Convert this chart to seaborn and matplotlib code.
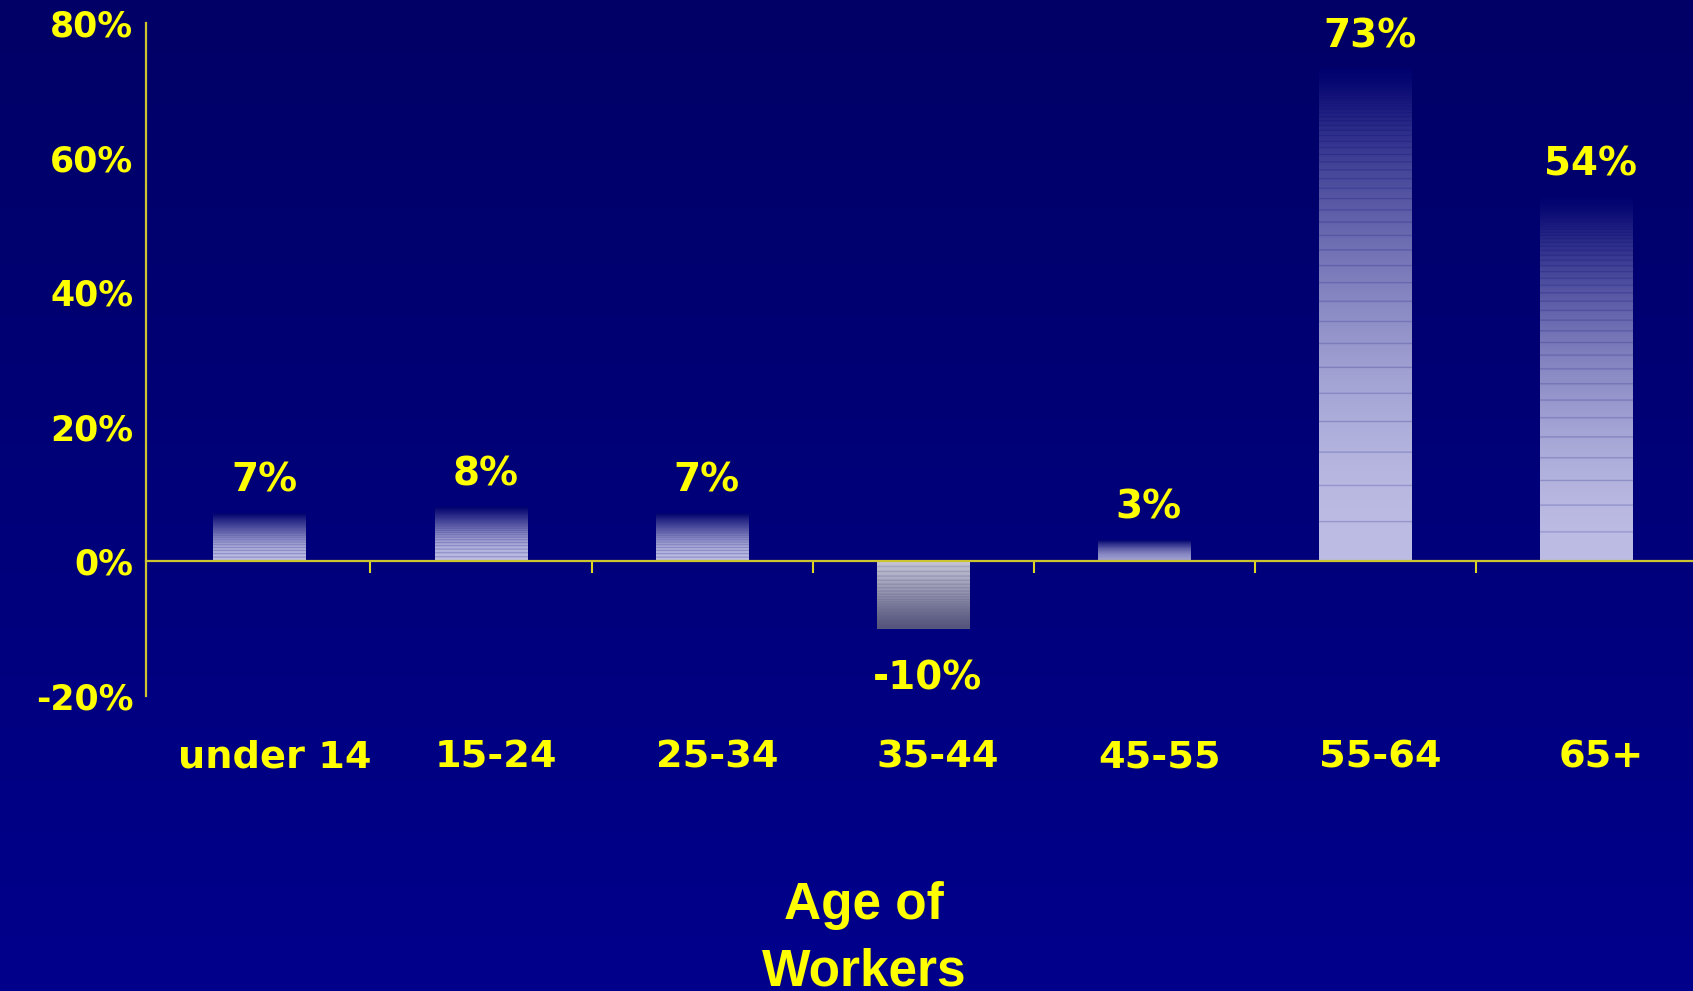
import numpy as np
import pandas as pd
import matplotlib
matplotlib.use("Agg")
import matplotlib.pyplot as plt
import matplotlib.transforms as mtransforms
from matplotlib.colors import to_rgb
from matplotlib.ticker import FuncFormatter
import seaborn as sns

# ---- data -------------------------------------------------------------
age_groups = ["under 14", "15-24", "25-34", "35-44", "45-55", "55-64", "65+"]
change_pct = [7, 8, 7, -10, 3, 73, 54]
y_ticks = [-20, 0, 20, 40, 60, 80]
axis_title = "Age of\nWorkers"

# ---- style ------------------------------------------------------------
YELLOW = "#ffff00"
AXIS_YELLOW = "#cdc530"
BG_TOP = "#000066"
BG_BOTTOM = "#00008c"
BAR_BG = np.array(to_rgb("#00006e"))
BAR_LIGHT = np.array(to_rgb("#bcbce4"))
NEG_TOP = np.array(to_rgb("#c6c6d8"))
NEG_BOTTOM = np.array(to_rgb("#5c5c80"))

sns.set_theme(style="white")
plt.rcParams["font.family"] = ["DejaVu Sans"]

W, H, DPI = 1693, 991, 100
fig = plt.figure(figsize=(W / DPI, H / DPI), dpi=DPI)

# vertical background gradient
bg_ax = fig.add_axes([0, 0, 1, 1], zorder=0)
t = np.linspace(0, 1, 256)[:, None]
grad = np.array(to_rgb(BG_TOP))[None, :] * (1 - t) + np.array(to_rgb(BG_BOTTOM))[None, :] * t
bg_ax.imshow(grad[:, None, :], extent=[0, 1, 0, 1], aspect="auto", origin="upper")
bg_ax.set_axis_off()

# plotting area
left_px, right_px, top_px, bottom_px = 146, 1693, 23, 696
ax = fig.add_axes([left_px / W, 1 - bottom_px / H,
                   (right_px - left_px) / W, (bottom_px - top_px) / H], zorder=1)
ax.patch.set_alpha(0)

df = pd.DataFrame({"age": age_groups, "change": change_pct})
sns.barplot(data=df, x="age", y="change", ax=ax, width=0.42,
            color="white", saturation=1, errorbar=None)

ax.set_ylim(-20, 80)
ax.set_xlim(-0.515, 6.482)

px_per_unit = (bottom_px - top_px) / 100.0


def bar_image(value):
    """Striped vertical gradient for one bar, row 0 at the lower edge."""
    height_px = abs(value) * px_per_unit
    n = max(int(height_px * 2), 8)
    f = (np.arange(n) + 0.5) / n            # 0 at the baseline, 1 at the tip
    if value >= 0:
        w = 1 - f ** 2
        col = BAR_BG[None, :] + (BAR_LIGHT - BAR_BG)[None, :] * w[:, None]
        shade = BAR_BG
    else:
        col = NEG_TOP[None, :] * (1 - f[:, None]) + NEG_BOTTOM[None, :] * f[:, None]
        shade = np.array(to_rgb("#3a3a70"))
    # thin horizontal banding, tighter toward the tip
    lines = 1 - 0.92 ** np.arange(1, 80)
    lines = lines[lines < 0.985]
    dist_px = np.min(np.abs(f[:, None] - lines[None, :]), axis=1) * height_px
    strength = np.clip(1 - dist_px / 0.9, 0, 1) * 0.3
    col = col * (1 - strength[:, None]) + shade[None, :] * strength[:, None]
    if value < 0:
        col = col[::-1]
    return col[:, None, :]


for patch, value in zip(ax.containers[0], change_pct):
    x0, w = patch.get_x(), patch.get_width()
    y0, y1 = min(0, value), max(0, value)
    patch.set_facecolor("none")
    patch.set_edgecolor("none")
    ax.imshow(bar_image(value), extent=[x0, x0 + w, y0, y1], aspect="auto",
              origin="lower", interpolation="bilinear", zorder=2)
    ax.annotate(f"{value}%", xy=(x0 + w / 2, value),
                xytext=(3, 24 if value > 0 else -36), textcoords="offset points",
                ha="center", va="center", color=YELLOW, fontsize=28,
                fontweight="bold", zorder=4)

ax.set_xlim(-0.515, 6.482)
ax.set_ylim(-20, 80)

# axes and ticks
for side in ("top", "right"):
    ax.spines[side].set_visible(False)
ax.spines["left"].set_color(AXIS_YELLOW)
ax.spines["left"].set_linewidth(1.6)
ax.spines["bottom"].set_color(AXIS_YELLOW)
ax.spines["bottom"].set_linewidth(1.6)
ax.spines["bottom"].set_position(("data", 0))
ax.spines["bottom"].set_zorder(3)

ax.set_yticks(y_ticks)
ax.yaxis.set_major_formatter(FuncFormatter(lambda v, _: f"{int(v)}%"))
ax.tick_params(axis="y", which="major", direction="out", length=8, width=1.5,
               color=AXIS_YELLOW, labelcolor=YELLOW, labelsize=25, pad=1)
for lbl in ax.get_yticklabels():
    lbl.set_fontweight("bold")

ax.set_xticks(range(len(age_groups)))
ax.set_xticklabels(age_groups)
ax.set_xticks(np.arange(0.5, len(age_groups) - 1), minor=True)
ax.tick_params(axis="x", which="major", length=0, pad=128,
               labelcolor=YELLOW, labelsize=27.5)
ax.tick_params(axis="x", which="minor", direction="out", length=8.5, width=1.5,
               color="#e0d820", bottom=True)
shift = mtransforms.ScaledTranslation(15 / DPI, 0, fig.dpi_scale_trans)
for lbl in ax.get_xticklabels():
    lbl.set_fontweight("bold")
    lbl.set_transform(lbl.get_transform() + shift)

ax.set_ylabel("")
ax.set_xlabel(axis_title, color=YELLOW, fontsize=37, fontweight="bold",
              family=["Liberation Sans", "DejaVu Sans"], linespacing=1.45)
ax.xaxis.label.set_va("center")
ax.xaxis.set_label_coords((864 - left_px) / (right_px - left_px),
                          (bottom_px - 939) / (bottom_px - top_px))
ax.grid(False)

fig.savefig("out.png", dpi=DPI, facecolor=BG_TOP)
